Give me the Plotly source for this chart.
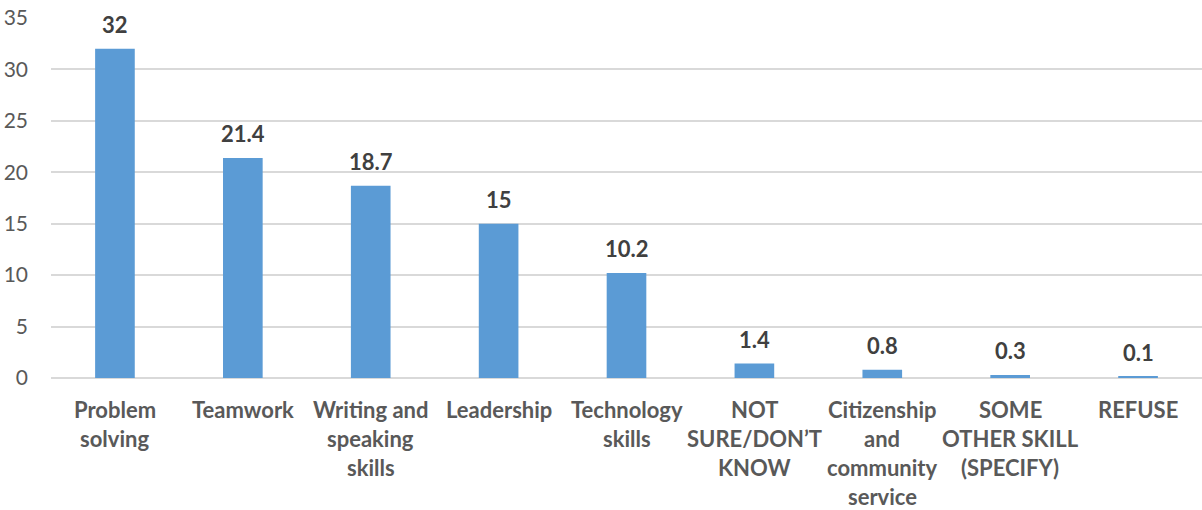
import plotly.graph_objects as go

categories = [["Problem", "solving"], ["Teamwork"], ["Writing and", "speaking", "skills"], ["Leadership"],
              ["Technology", "skills"], ["NOT", "SURE/DON\u2019T", "KNOW"], ["Citizenship", "and", "community", "service"],
              ["SOME", "OTHER SKILL", "(SPECIFY)"], ["REFUSE"]]
values = [32, 21.4, 18.7, 15, 10.2, 1.4, 0.8, 0.3, 0.1]
value_labels = ["32", "21.4", "18.7", "15", "10.2", "1.4", "0.8", "0.3", "0.1"]
y_ticks = [0, 5, 10, 15, 20, 25, 30, 35]

FONT = "Lato, Carlito, Calibri, sans-serif"
x_idx = list(range(len(categories)))

fig = go.Figure()
fig.add_trace(go.Bar(x=x_idx, y=values, marker=dict(color="#5B9BD5", line=dict(width=0)),
                     width=0.31, hoverinfo="y"))

for i, (v, t) in enumerate(zip(values, value_labels)):
    fig.add_annotation(x=i, y=v, text="<b>" + t + "</b>", showarrow=False, xref="x", yref="y",
                       yanchor="bottom", yshift=9, font=dict(family=FONT, size=22, color="#404040"))

for i, lines in enumerate(categories):
    for k, line in enumerate(lines):
        fig.add_annotation(x=i, y=0, text="<b>" + line + "</b>", showarrow=False, xref="x", yref="paper",
                           yanchor="middle", yshift=-(31 + 29 * k),
                           font=dict(family=FONT, size=22, color="#595959"))

fig.update_layout(
    width=1202, height=510,
    margin=dict(l=51, r=0, t=18, b=132),
    paper_bgcolor="white", plot_bgcolor="white",
    showlegend=False,
    font=dict(family=FONT),
    xaxis=dict(tickmode="array", tickvals=x_idx, showticklabels=False, automargin=False,
               range=[-0.5, len(categories) - 0.5], showgrid=False, zeroline=False,
               showline=False, ticks=""),
    yaxis=dict(range=[0, 35], tickvals=y_ticks, showgrid=True, gridcolor="#D9D9D9", gridwidth=1.5,
               zeroline=True, zerolinecolor="#D9D9D9", zerolinewidth=1.5, showline=False, ticks="",
               ticklabelstandoff=22, automargin=False,
               tickfont=dict(family=FONT, size=21, color="#595959")),
)

fig.write_html("out.html", config={"displayModeBar": False},
               post_script="document.body.style.margin='0px';document.body.style.overflow='hidden';")
